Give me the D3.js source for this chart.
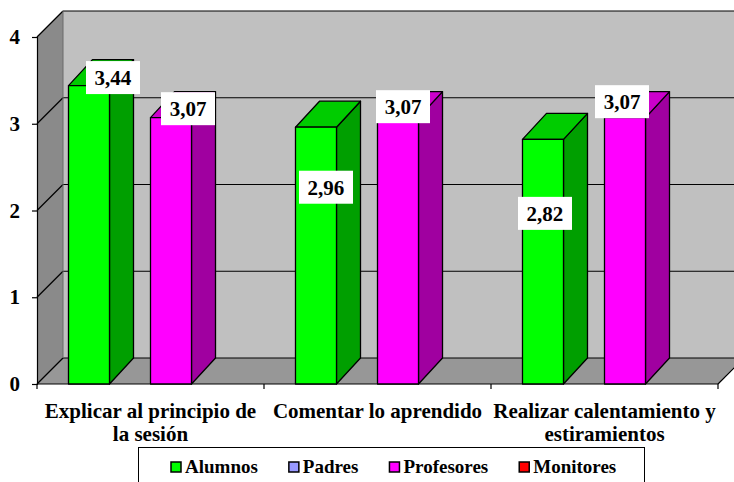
<!DOCTYPE html>
<html>
<head>
<meta charset="utf-8">
<script src="https://cdn.jsdelivr.net/npm/d3@7"></script>
</head>
<body style="margin:0;background:#fff">
<svg id="chart" width="734" height="482" style="display:block"></svg>
<script>
// Categories (two-line labels) and series
const categories = ["Explicar al principio de la sesión", "Comentar lo aprendido", "Realizar calentamiento y estiramientos"];
const categoryLines = [["Explicar al principio de", "la sesión"], ["Comentar lo aprendido"], ["Realizar calentamiento y", "estiramientos"]];
const seriesNames = ["Alumnos", "Padres", "Profesores", "Monitores"];
const alumnos    = [3.44, 2.96, 2.82];
const padres     = [null, null, null];
const profesores = [3.07, 3.07, 3.07];
const monitores  = [null, null, null];
const yTicks = [0, 1, 2, 3, 4];

// Label nudges (dx, dy) from the top-front centre of each bar
const labelNudgeAlumnos    = [[24, -8], [10, 60], [2, 74]];
const labelNudgeProfesores = [[17, -9], [5, -11], [-3, -16]];

const seriesValues = [alumnos, padres, profesores, monitores];
const seriesColors = {
  Alumnos:    { front: "#00FF00", top: "#00CC00", side: "#009F00" },
  Padres:     { front: "#9999FF", top: "#7A7ACC", side: "#5C5C99" },
  Profesores: { front: "#FF00FF", top: "#CC00CC", side: "#A000A0" },
  Monitores:  { front: "#FF0000", top: "#CC0000", side: "#990000" }
};

const FONT = "'Times New Roman', 'Liberation Serif', Tinos, serif";
const svg = d3.select("#chart");
const addText = (sel, size) => sel.append("text")
  .style("font-family", FONT)
  .style("font-weight", "bold")
  .style("font-size", size + "px")
  .attr("fill", "#000");

// 3D frame geometry
const x0 = 37, x1 = 718;          // front floor edge
const yBottom = 384, yTop = 37;   // front value range
const wallDX = 26, wallDY = -26;  // depth offset of the walls
const barDX = 24, barDY = -26;    // depth offset of the bars

const y = d3.scaleLinear().domain([0, 4]).range([yBottom, yTop]);
const xCat = d3.scaleBand().domain(categories).range([x0, x1]).padding(0);
const xSer = d3.scaleBand().domain(seriesNames).range([0, xCat.bandwidth()])
  .paddingInner(0).paddingOuter(0.768);

const pts = a => a.map(p => p.join(",")).join(" ");

// Back wall
svg.append("polygon")
  .attr("points", pts([[x0 + wallDX, y(4) + wallDY], [x1 + wallDX + 40, y(4) + wallDY],
                       [x1 + wallDX + 40, y(0) + wallDY], [x0 + wallDX, y(0) + wallDY]]))
  .attr("fill", "#C0C0C0");

// Left side wall
svg.append("polygon")
  .attr("points", pts([[x0, y(4)], [x0 + wallDX, y(4) + wallDY],
                       [x0 + wallDX, y(0) + wallDY], [x0, y(0)]]))
  .attr("fill", "#8A8A8A");

// Floor
svg.append("polygon")
  .attr("points", pts([[x0, y(0)], [x0 + wallDX, y(0) + wallDY],
                       [x1 + wallDX, y(0) + wallDY], [x1, y(0)]]))
  .attr("fill", "#979797")
  .attr("stroke", "#000").attr("stroke-width", 1);

// Gridlines on back and left walls
const grid = svg.append("g").attr("stroke", "#000").attr("stroke-width", 1.2).attr("fill", "none");
yTicks.forEach(t => {
  if (t > 0) {
    grid.append("line")
      .attr("x1", x0 + wallDX).attr("x2", 734)
      .attr("y1", y(t) + wallDY).attr("y2", y(t) + wallDY);
  }
  grid.append("line")
    .attr("x1", x0).attr("y1", y(t))
    .attr("x2", x0 + wallDX).attr("y2", y(t) + wallDY);
});
// Edge between left wall and back wall
svg.append("line")
  .attr("x1", x0 + wallDX).attr("x2", x0 + wallDX)
  .attr("y1", y(4) + wallDY).attr("y2", y(0) + wallDY)
  .attr("stroke", "#6a6a6a").attr("stroke-width", 1);

// Value axis
const yAxis = d3.axisLeft(y).tickValues(yTicks).tickSize(5).tickPadding(12)
  .tickFormat(d3.format("d"));
const gy = svg.append("g").attr("transform", `translate(${x0},0)`).call(yAxis);
gy.select(".domain").attr("stroke", "#000").attr("stroke-width", 1.2);
gy.selectAll(".tick line").attr("stroke", "#000").attr("stroke-width", 1.2);
gy.selectAll(".tick text")
  .style("font-family", FONT)
  .style("font-weight", "bold")
  .style("font-size", "21px")
  .attr("fill", "#000");

// Category axis ticks along the front floor edge
const catTicks = [x0].concat(categories.map(c => xCat(c) + xCat.bandwidth()));
svg.append("g").selectAll("line").data(catTicks).join("line")
  .attr("x1", d => d).attr("x2", d => d)
  .attr("y1", y(0)).attr("y2", y(0) + 5)
  .attr("stroke", "#000").attr("stroke-width", 1.2);
// Floor right end edge
svg.append("line")
  .attr("x1", x1).attr("y1", y(0)).attr("x2", x1 + wallDX).attr("y2", y(0) + wallDY)
  .attr("stroke", "#000").attr("stroke-width", 1.2);

// Category labels
categories.forEach((c, i) => {
  const cx = xCat(c) + xCat.bandwidth() / 2;
  categoryLines[i].forEach((line, j) => {
    addText(svg, 21)
      .attr("x", cx).attr("y", 418 + j * 23)
      .attr("text-anchor", "middle")
      .text(line);
  });
});

// Bars
const bars = svg.append("g").attr("stroke", "#000").attr("stroke-width", 1.3).attr("stroke-linejoin", "round");
const labels = [];
categories.forEach((c, i) => {
  seriesNames.forEach((s, k) => {
    const v = seriesValues[k][i];
    if (v == null) return;
    const xl = xCat(c) + xSer(s);
    const xr = xl + xSer.bandwidth();
    const yt = y(v), yb = y(0);
    const col = seriesColors[s];
    // side
    bars.append("polygon")
      .attr("points", pts([[xr, yt], [xr + barDX, yt + barDY], [xr + barDX, yb + barDY], [xr, yb]]))
      .attr("fill", col.side);
    // top
    bars.append("polygon")
      .attr("points", pts([[xl, yt], [xl + barDX, yt + barDY], [xr + barDX, yt + barDY], [xr, yt]]))
      .attr("fill", col.top);
    // front
    bars.append("rect")
      .attr("x", xl).attr("y", yt).attr("width", xr - xl).attr("height", yb - yt)
      .attr("fill", col.front);
    const nudge = s === "Alumnos" ? labelNudgeAlumnos[i] : labelNudgeProfesores[i];
    labels.push({ v, cx: (xl + xr) / 2 + nudge[0], cy: yt + nudge[1] });
  });
});

// Data labels
const fmt = v => d3.format(".2f")(v).replace(".", ",");
const lg = svg.append("g");
labels.forEach(d => {
  lg.append("rect")
    .attr("x", d.cx - 27).attr("y", d.cy - 16.5)
    .attr("width", 54).attr("height", 33)
    .attr("fill", "#fff");
  addText(lg, 21)
    .attr("x", d.cx).attr("y", d.cy + 7.5)
    .attr("text-anchor", "middle")
    .text(fmt(d.v));
});

// Legend
const legend = svg.append("g");
legend.append("rect")
  .attr("x", 138.5).attr("y", 447.5).attr("width", 506).attr("height", 50)
  .attr("fill", "#fff").attr("stroke", "#000").attr("stroke-width", 1);
let lx = 171;
seriesNames.forEach(s => {
  legend.append("rect")
    .attr("x", lx).attr("y", 462).attr("width", 10).attr("height", 10)
    .attr("fill", seriesColors[s].front).attr("stroke", "#000").attr("stroke-width", 1.5);
  const t = addText(legend, 19)
    .attr("x", lx + 14).attr("y", 473)
    .text(s);
  lx += 14 + t.node().getComputedTextLength() + 31;
});
</script>
</body>
</html>
